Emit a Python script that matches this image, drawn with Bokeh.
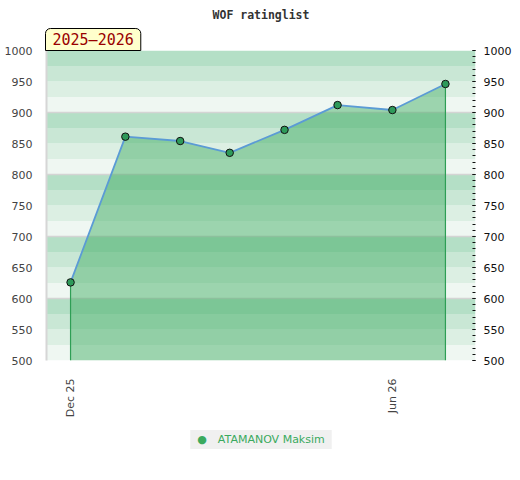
import math
import pandas as pd
from bokeh.plotting import figure
from bokeh.models import (Range1d, LinearAxis, SingleIntervalTicker, FixedTicker,
                          BoxAnnotation, Title, Grid)
from bokeh.embed import file_html
from bokeh.resources import INLINE

# ---------------- data ----------------
dates = ["2025-12-01", "2026-01-01", "2026-02-01", "2026-03-01",
         "2026-04-01", "2026-05-01", "2026-06-01", "2026-07-01"]
ratings = [626, 861, 854, 835, 872, 912, 904, 946]
player = "ATAMANOV Maksim"
title_text = "WOF ratinglist"
season_text = "2025\u20132026"
xtick_dates = ["2025-12-01", "2026-06-01"]
xtick_labels = ["Dec 25", "Jun 26"]
y_min, y_max = 500, 1000
band_step = 25
band_colors = ["#eff7f2", "#dcefe3", "#c9e7d5", "#b4dfc6"]  # bottom -> top within each 100

# ---------------- figure ----------------
x = pd.to_datetime(dates)
x_start = x[0] - pd.Timedelta(days=13.6)
x_end = x[-1] + pd.Timedelta(days=17)

p = figure(width=512, height=464, output_backend="svg", toolbar_location=None,
           x_axis_type=None, y_axis_location=None,
           x_range=Range1d(x_start, x_end), y_range=Range1d(y_min, y_max),
           frame_width=429, frame_height=310,
           min_border_left=46, min_border_right=37, min_border_top=50, min_border_bottom=0)
p.background_fill_color = "white"
p.border_fill_color = "white"
p.outline_line_color = None

p.title.text = title_text
p.title.align = "center"
p.title.text_font = "DejaVu Sans Mono"
p.title.text_font_style = "bold"
p.title.text_font_size = "11.5px"
p.title.text_color = "#333333"

# season badge as a sub-title next to the frame
badge = Title(text=season_text, align="left", standoff=0, offset=-1,
              text_font="DejaVu Sans Mono", text_font_style="normal",
              text_font_size="15px", text_color="#990000",
              background_fill_color="#ffffcc", border_line_color="#000000",
              border_line_width=1, padding=dict(left=7, right=7, top=2, bottom=2),
              border_radius=dict(top_left=5, top_right=5, bottom_right=0, bottom_left=0))
p.add_layout(badge, "above")

# background bands
for i, b in enumerate(range(y_min, y_max, band_step)):
    p.add_layout(BoxAnnotation(bottom=b, top=b + band_step, fill_color=band_colors[i % 4],
                               fill_alpha=1.0, line_color=None, level="image"))

# axes
yl = LinearAxis(ticker=SingleIntervalTicker(interval=50, num_minor_ticks=0))
yl.major_tick_line_color = None
yl.minor_tick_line_color = None
yl.axis_line_color = "#d6d6d6"
yl.axis_line_width = 2
yl.major_label_text_color = "#444444"
yl.major_label_text_font = "DejaVu Sans"
yl.major_label_text_font_size = "11px"
yl.major_label_standoff = 8
p.add_layout(yl, "left")

yr = LinearAxis(ticker=SingleIntervalTicker(interval=50, num_minor_ticks=5))
yr.axis_line_color = None
yr.major_tick_in = 3
yr.major_tick_out = 0
yr.minor_tick_in = 3
yr.minor_tick_out = 0
yr.major_tick_line_color = "#111111"
yr.minor_tick_line_color = "#111111"
yr.major_label_text_color = "#111111"
yr.major_label_text_font = "DejaVu Sans"
yr.major_label_text_font_size = "11px"
yr.major_label_standoff = 8
p.add_layout(yr, "right")

tick_ms = [pd.Timestamp(d).value / 1e6 for d in xtick_dates]
xa = LinearAxis(ticker=FixedTicker(ticks=tick_ms, minor_ticks=[]))
xa.major_label_overrides = {t: l for t, l in zip(tick_ms, xtick_labels)}
xa.major_label_orientation = math.pi / 2
xa.major_tick_line_color = None
xa.minor_tick_line_color = None
xa.axis_line_color = None
xa.major_label_text_color = "#444444"
xa.major_label_text_font = "DejaVu Sans"
xa.major_label_text_font_size = "11px"
xa.major_label_standoff = 12
p.add_layout(xa, "below")

# grid: lines every 100
g = Grid(dimension=1, ticker=SingleIntervalTicker(interval=100))
g.grid_line_color = "#d4d4d4"
g.grid_line_width = 1.5
p.add_layout(g)

# area + lines
p.varea(x=x, y1=y_min, y2=ratings, fill_color="#38a85c", fill_alpha=0.45)
p.segment(x0=[x[0], x[-1]], y0=[y_min, y_min], x1=[x[0], x[-1]],
          y1=[ratings[0], ratings[-1]], line_color="#2e9e55", line_width=1.2)
p.line(x=x, y=ratings, line_color="#5b9bd5", line_width=1.8)
sc = p.scatter(x=x, y=ratings, size=7.5, fill_color="#2e9a5a",
               line_color="#111111", line_width=1)

# legend box (drawn as a boxed title below the axis)
legend_box = Title(text="\u25cf\u2003" + player, align="center", standoff=15,
                   text_font="DejaVu Sans", text_font_style="normal",
                   text_font_size="11px", text_color="#3aaa5e",
                   background_fill_color="#f0f0f0", border_line_color=None,
                   padding=dict(left=7, right=7, top=3, bottom=3))
p.add_layout(legend_box, "below")

open("out.html", "w").write(file_html(p, INLINE))
